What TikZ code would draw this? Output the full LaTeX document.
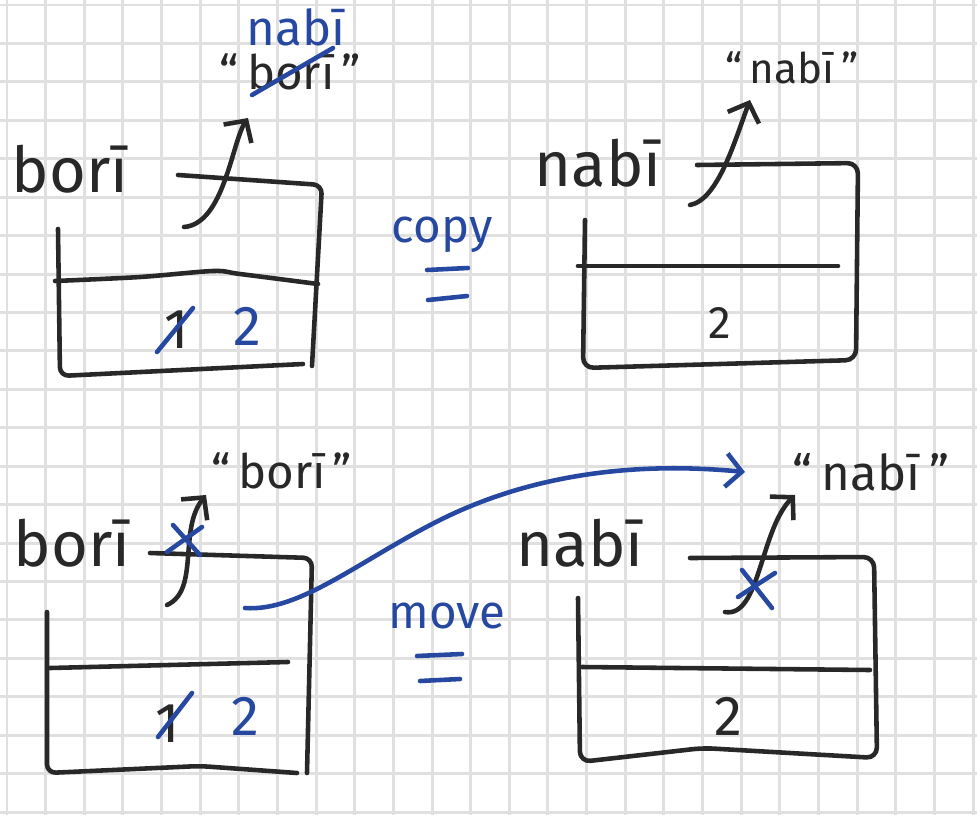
\documentclass[tikz,border=0pt]{standalone}
\usepackage{fontspec}
\setmainfont{Fira Sans}
\usepackage{xcolor}
\usepackage{tikz}
\usetikzlibrary{arrows.meta, positioning, calc}

\definecolor{ink}{RGB}{40,40,40}
\definecolor{blueink}{RGB}{38,72,160}
\definecolor{gridgray}{RGB}{224,224,224}

\begin{document}
\begin{tikzpicture}[
        x=0.02cm, y=-0.02cm,
        gridline/.style={draw=gridgray, line width=1.7pt},
        pen/.style={draw=ink, line width=2.6pt, line cap=round, line join=round},
        bluepen/.style={draw=blueink, line width=2.6pt, line cap=round, line join=round},
        ptr/.style={pen, -{Straight Barb[length=9pt, width=19pt]}},
        blueptr/.style={bluepen, -{Straight Barb[length=9pt, width=19pt]}},
        varname/.style={text=ink, anchor=base, inner sep=0pt, font=\fontsize{36}{40}\selectfont},
        strval/.style={text=ink, anchor=base, inner sep=0pt, font=\fontsize{26}{30}\selectfont},
        cellval/.style={text=ink, anchor=base, inner sep=0pt, font=\fontsize{32}{36}\selectfont},
        opname/.style={text=blueink, anchor=base, inner sep=0pt, font=\fontsize{27}{30}\selectfont}
        ]

        % Paper
        \fill[white] (0,0) rectangle (977,815);
        \useasboundingbox (0,0) rectangle (977,815);
        \foreach \k in {0,...,25}
            \draw[gridline] ({7+38.64*\k},0) -- ({7+38.64*\k},815);
        \foreach \k in {0,...,21}
            \draw[gridline] (0,{5+38.43*\k}) -- (977,{5+38.43*\k});

        % Boxes
        \draw[pen, rounded corners=5] (178,175) -- (322,185) -- (312,366);
        \draw[pen, rounded corners=5] (58,229) -- (60,376) -- (303,364);
        \draw[pen] plot[smooth] coordinates {(55,281) (140,277) (213,271) (240,274) (318,284)};

        \draw[pen, rounded corners=6] (697,165) -- (858,163) -- (856,360) -- (583,368) -- (585,220);
        \draw[pen] (578,266) -- (838,266);

        \draw[pen, rounded corners=5] (150,553) -- (312,558) -- (307,773);
        \draw[pen, rounded corners=5] (47,612) -- (47,773) -- (200,766) -- (297,773);
        \draw[pen] (50,668) -- (288,662);

        \draw[pen, rounded corners=6] (690,558) -- (874,557) -- (877,758) -- (703,748) -- (580,762) -- (578,598);
        \draw[pen] (582,667) -- (870,670);

        % Nodes
        \node[varname] (bori_top) at (70,192) {borī};
        \node[varname] (nabi_top) at (598,186) {nabī};
        \node[varname] (bori_bot) at (72,566) {borī};
        \node[varname] (nabi_bot) at (580,566) {nabī};

        \node[strval, font=\fontsize{27}{30}\selectfont] (str_bori_top) at (290,89) {``\kern5pt borī\kern4pt''};
        \node[strval, text=blueink, font=\fontsize{28}{30}\selectfont] (str_nabi_new) at (296,45) {nabī};
        \node[strval, font=\fontsize{24}{28}\selectfont] (str_nabi_top) at (792,83) {``\kern4pt nabī\kern4pt''};
        \node[strval, font=\fontsize{27}{30}\selectfont] (str_bori_bot) at (282,488) {``\kern4pt borī\kern4pt''};
        \node[strval, font=\fontsize{28}{30}\selectfont] (str_nabi_bot) at (871,490) {``\kern5pt nabī\kern5pt''};

        \node[cellval] (old_top) at (177,348) {1};
        \node[cellval, text=blueink] (val_top) at (247,345) {2};
        \node[cellval, font=\fontsize{26}{30}\selectfont] (val_copy) at (720,338) {2};
        \node[cellval] (old_bot) at (168,742) {1};
        \node[cellval, text=blueink] (val_bot) at (245,735) {2};
        \node[cellval] (val_move) at (728,735) {2};

        \node[opname] (copy) at (442,242) {copy};
        \node[opname] (move) at (447,628) {move};

        \coordinate (ref_top) at (184,227);
        \coordinate (tip_top) at (248,118);
        \coordinate (ref_copy) at (690,205);
        \coordinate (tip_copy) at (750,100);
        \coordinate (ref_bot) at (167,605);
        \coordinate (tip_bot) at (206,495);
        \coordinate (ref_move) at (725,612);
        \coordinate (tip_move) at (795,495);
        \coordinate (mv_start) at (245,608);
        \coordinate (mv_tip) at (745,472);

        % Arrows
        \draw[ptr] (ref_top) .. controls (224,224) and (232,142) .. (tip_top);
        \draw[ptr] (ref_copy) .. controls (718,200) and (735,140) .. (tip_copy);
        \draw[ptr] (ref_bot) .. controls (200,590) and (178,530) .. (tip_bot);
        \draw[ptr] (ref_move) .. controls (760,618) and (760,530) .. (tip_move);
        \draw[blueptr] (mv_start) .. controls (300,612) and (360,560) .. (440,520)
            .. controls (520,480) and (620,460) .. (mv_tip);

        % Blue marks
        \draw[bluepen] (252,95) -- (333,48);
        \draw[bluepen] (157,352) -- (193,308);
        \draw[bluepen] (158,737) -- (192,693);
        \draw[bluepen] (167,552) -- (202,527);
        \draw[bluepen] (173,525) -- (200,555);
        \draw[bluepen] (742,570) -- (772,608);
        \draw[bluepen] (738,597) -- (775,573);
        \draw[bluepen] (427,270) -- (468,268);
        \draw[bluepen] (428,300) -- (467,296);
        \draw[bluepen] (417,656) -- (462,654);
        \draw[bluepen] (420,681) -- (460,679);

\end{tikzpicture}
\end{document}
